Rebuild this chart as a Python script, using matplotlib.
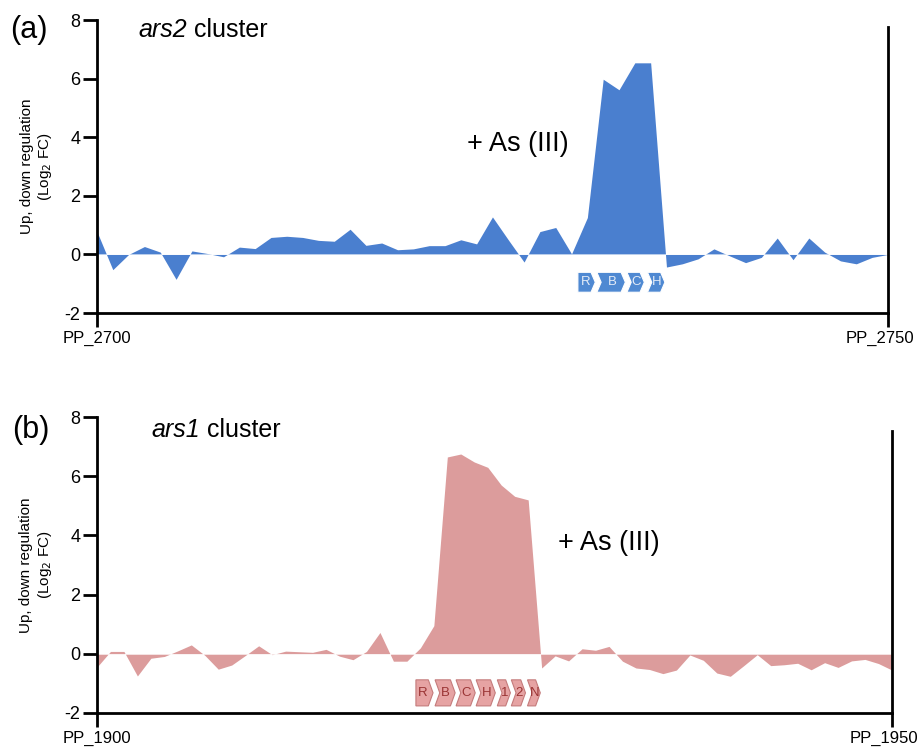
import matplotlib
matplotlib.use("Agg")
import matplotlib.pyplot as plt
from matplotlib.patches import Polygon
from matplotlib.transforms import ScaledTranslation

plt.rcParams['font.family'] = ['Liberation Sans', 'DejaVu Sans']
plt.rcParams['axes.unicode_minus'] = False

# ars2 cluster, PP_2700 .. PP_2750
ars2_fc = [0.78, -0.52, 0.0, 0.27, 0.08, -0.85, 0.12, 0.03, -0.08, 0.25,
           0.2, 0.58, 0.62, 0.58, 0.48, 0.45, 0.86, 0.31, 0.39, 0.16,
           0.19, 0.3, 0.3, 0.5, 0.36, 1.28, 0.5, -0.26, 0.78, 0.92,
           0.02, 1.26, 5.98, 5.62, 6.54, 6.54, -0.43, -0.32, -0.15, 0.19,
           -0.05, -0.28, -0.1, 0.56, -0.18, 0.56, 0.08, -0.22, -0.32, -0.1, 0.0]
ars2_genes = ['R', 'B', 'C', 'H']
ars2_start = [30.4, 31.6, 33.5, 34.8]
ars2_end = [31.5, 33.4, 34.6, 35.9]

# ars1 cluster, PP_1900 .. PP_1950
ars1_fc = [-0.45, 0.08, 0.08, -0.75, -0.15, -0.09, 0.1, 0.3, -0.05, -0.52,
           -0.38, -0.06, 0.27, -0.03, 0.09, 0.07, 0.05, 0.15, -0.08, -0.2,
           0.08, 0.72, -0.25, -0.25, 0.2, 0.95, 6.65, 6.75, 6.48, 6.3,
           5.7, 5.32, 5.2, -0.48, -0.07, -0.24, 0.17, 0.12, 0.25, -0.25,
           -0.48, -0.53, -0.67, -0.55, -0.04, -0.22, -0.65, -0.76, -0.4, -0.03,
           -0.4, -0.37, -0.32, -0.54, -0.3, -0.46, -0.24, -0.19, -0.33, -0.55]
ars1_genes = ['R', 'B', 'C', 'H', '1', '2', 'N']
ars1_start = [23.67, 25.09, 26.65, 28.14, 29.71, 30.75, 31.95]
ars1_end = [24.94, 26.58, 28.07, 29.56, 30.68, 31.8, 32.9]

ticks_a = ['PP_2700', 'PP_2750']
ticks_b = ['PP_1900', 'PP_1950']


def genes(ax, names, starts, ends, ylo, yhi, tip, fc, ec, tc):
    ym = (ylo + yhi) / 2
    for k, (n, s, e) in enumerate(zip(names, starts, ends)):
        notch = tip if k > 0 else 0
        pts = [(s, yhi), (e - tip, yhi), (e, ym), (e - tip, ylo), (s, ylo), (s + notch, ym)]
        ax.add_patch(Polygon(pts, closed=True, facecolor=fc, edgecolor=ec, lw=0.8, zorder=3))
        ax.text((s + notch + e - tip) / 2 + 0.05, ym, n, ha='center', va='center',
                fontsize=9.5, color=tc, zorder=4)


def panel(ax, vals, color, ticklabels, right_top):
    x = list(range(len(vals)))
    ax.fill_between(x, vals, 0, color=color, lw=0, interpolate=True)
    ax.axhline(0, color='white', lw=0.6, alpha=0.7)
    ax.set_xlim(0, len(vals) - 1)
    ax.set_ylim(-2, 8)
    ax.set_yticks([-2, 0, 2, 4, 6, 8])
    ax.set_xticks([0, len(vals) - 1])
    ax.set_xticklabels(ticklabels)
    ax.spines['top'].set_visible(False)
    for s in ['left', 'bottom', 'right']:
        ax.spines[s].set_linewidth(2)
    ax.spines['right'].set_bounds(-2, right_top)
    ax.tick_params(axis='both', direction='out', length=10, width=2, pad=3)
    ax.tick_params(axis='y', labelsize=13, pad=2)
    ax.tick_params(axis='x', labelsize=12)
    last = ax.get_xticklabels()[-1]
    last.set_transform(last.get_transform() + ScaledTranslation(-6 / 72, 0, fig.dpi_scale_trans))
    ax.text(-0.076, 0.5, 'Up, down regulation\n(Log$_2$ FC)', transform=ax.transAxes,
            rotation=90, ha='center', va='center', fontsize=11, multialignment='center')


def title(ax, x, y, name):
    t = ax.text(x, y, name, transform=ax.transAxes, fontsize=18, style='italic', va='center')
    ax.annotate(' cluster', xy=(1, 0), xycoords=t, fontsize=18, va='bottom')


fig = plt.figure(figsize=(9.21, 7.48), dpi=100)
ax1 = fig.add_axes([0.1053, 0.5815, 0.8588, 0.3917])
ax2 = fig.add_axes([0.1053, 0.0468, 0.8632, 0.3957])

panel(ax1, ars2_fc, '#4a7fcf', ticks_a, 7.75)
genes(ax1, ars2_genes, ars2_start, ars2_end, -1.29, -0.61, 0.27, '#4f89d2', 'white', '#e4ecf7')
title(ax1, 0.052, 0.966, 'ars2')
ax1.text(23.4, 3.76, '+ As (III)', fontsize=19.5, va='center')

panel(ax2, ars1_fc, '#dc9c9c', ticks_b, 7.53)
genes(ax2, ars1_genes, ars1_start, ars1_end, -1.76, -0.88, 0.35, '#e6a3a3', '#c47b7b', '#9a3434')
title(ax2, 0.069, 0.956, 'ars1')
ax2.text(34.2, 3.75, '+ As (III)', fontsize=19.5, va='center')

fig.text(0.011, 0.96, '(a)', fontsize=22, va='center')
fig.text(0.013, 0.425, '(b)', fontsize=22, va='center')

fig.savefig('out.png', dpi=100)
